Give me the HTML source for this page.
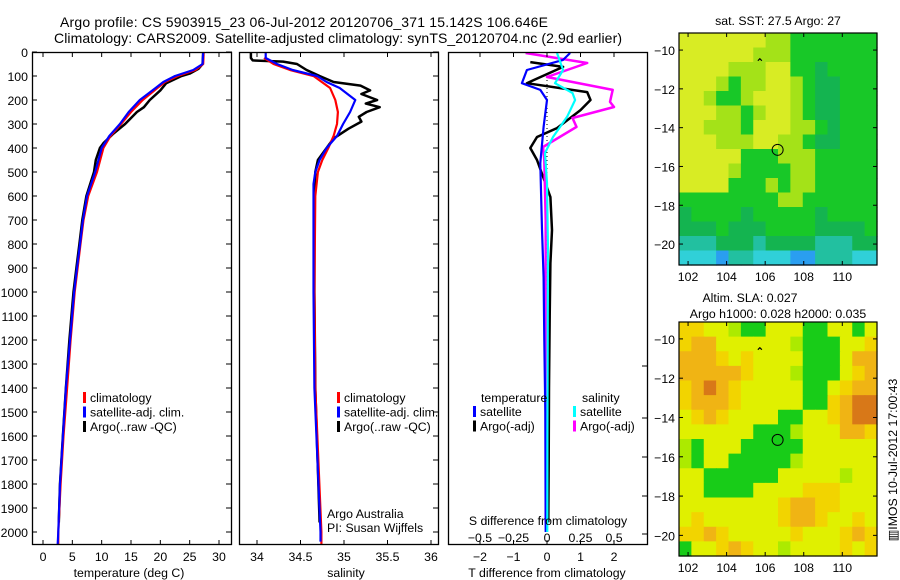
<!DOCTYPE html>
<html><head><meta charset="utf-8"><style>
html,body{margin:0;padding:0;background:#fff;}
svg{display:block;font-family:"Liberation Sans",sans-serif;}
</style></head><body>
<svg id="fig" width="900" height="580" viewBox="0 0 900 580" xmlns="http://www.w3.org/2000/svg">
<text x="304" y="27" font-size="14" text-anchor="middle" textLength="488">Argo profile: CS 5903915_23 06-Jul-2012 20120706_371 15.142S 106.646E</text>
<text x="338" y="43" font-size="14" text-anchor="middle" textLength="568">Climatology: CARS2009. Satellite-adjusted climatology: synTS_20120704.nc (2.9d earlier)</text>
<g id="maps"></g>
<g id="panels"></g>
</svg>
<script>
// ---------- data ----------
const depthTicks = [0,100,200,300,400,500,600,700,800,900,1000,1100,1200,1300,1400,1500,1600,1700,1800,1900,2000];
const tempTicks = [0,5,10,15,20,25,30];
const salTicks = [34,34.5,35,35.5,36];
const tdiffTicks = [-2,-1,0,1,2];
const sdiffTicks = [-0.5,-0.25,0,0.25,0.5];

const tClimDepth = [0,50,75,100,125,150,200,250,300,350,400,500,600,700,800,900,1000,1200,1400,1600,1800,2000,2050];
const tClimVal   = [27.4,27.3,26.0,23.0,20.8,19.5,17.0,15.0,13.3,11.5,10.3,9.2,7.7,6.9,6.4,5.9,5.4,4.7,4.1,3.5,3.0,2.6,2.6];
const tSatDepth  = [0,50,75,100,125,150,200,250,300,350,400,500,600,700,800,900,1000,1200,1400,1600,1800,2000,2050];
const tSatVal    = [27.3,27.2,25.6,22.5,20.5,19.2,16.5,14.6,13.1,11.3,10.0,8.9,7.5,6.8,6.3,5.8,5.3,4.6,3.9,3.4,2.9,2.6,2.5];
const tArgoDepth = [0,50,70,90,100,130,160,200,230,250,280,300,340,380,400,450,500,600,700,800,900,1000,1200,1400,1600,1800,1960];
const tArgoVal   = [27.3,27.2,26.5,25.0,23.6,21.0,20.0,18.2,17.2,16.0,14.8,14.0,12.0,10.3,9.7,9.0,8.7,7.4,6.7,6.2,5.7,5.2,4.5,3.9,3.4,2.9,2.7];

const sClimDepth = [25,50,75,100,150,200,250,300,350,400,450,500,600,1000,1400,2000,2050];
const sClimVal   = [34.08,34.19,34.38,34.65,34.84,34.9,34.93,34.92,34.88,34.82,34.75,34.7,34.67,34.66,34.67,34.74,34.74];
const sSatDepth  = [0,25,50,75,100,125,150,200,250,300,350,400,450,500,550,1000,1400,2000,2040];
const sSatVal    = [34.1,34.1,34.23,34.41,34.69,34.8,34.95,35.13,35.07,34.99,34.92,34.8,34.72,34.67,34.65,34.65,34.66,34.73,34.73];
const sArgoDepth = [0,25,35,40,50,75,100,125,140,160,175,200,215,230,250,270,290,320,360,400,450,500,600,1000,1400,1960];
const sArgoVal   = [33.93,33.93,33.95,34.3,34.46,34.57,34.72,34.88,35.19,35.3,35.2,35.38,35.25,35.41,35.26,35.17,35.2,35.05,34.88,34.8,34.7,34.67,34.66,34.66,34.67,34.72];

const dTSatDepth  = [4,33,75,130,158,200,312,463,740,940,1200,1500,2000];
const dTSatVal    = [0.69,0.48,-0.6,-0.75,-0.2,0,-0.1,-0.2,-0.15,-0.1,-0.08,-0.05,-0.04];
const dTArgoDepth = [42,62,117,130,167,200,242,317,354,400,450,604,742,880,1100,1400,1700,1960];
const dTArgoVal   = [-0.5,0.48,-0.4,-0.6,1.2,1.3,1.0,0.3,-0.3,-0.5,-0.3,0.1,0.15,0.1,0.08,0.06,0.05,0.04];
const dSSatDepth  = [4,75,130,171,200,270,354,421,546,800,1200,1600,2000];
const dSSatVal    = [0.075,0.12,0.06,0.19,0.21,0.15,0.045,-0.015,0,0.007,0.005,0.003,0.002];
const dSArgoDepth = [4,46,104,158,208,229,275,312,396,450,700,1100,1500,1960];
const dSArgoVal   = [-0.16,0.3,0,0.49,0.47,0.5,0.19,0.22,-0.03,-0.02,-0.01,-0.01,-0.01,-0.01];

const sstGrid = [
"YYYYYYYLLGGGGGGG","YYYYYYLLLGGGGGGG","YYYYLLLYYGGDGGGG","YYYLGLLYYLGDDGGG",
"YYLGGLYYYLGDDGGG","YYYLLGLYYLGDDGGG","YYLLLGYYYLLGDGGG","YYYLLLYYLLGDDGGG",
"YYYYYGGGLLLGGGGG","YYYYLGGGGLLGGGGG","YYYYGGGLGLLGGGGG","GGGGGGGGLLGGGGGG",
"DGGGGDGGGGGDGGGG","DDDGDDDGGGGDDDDG","CCCDDDCDDDDCCCDD","AAABCCAAABBCCCAA"];
const slaGrid = [
"ooYYLGGYYYGGYYGY","oOOYYYYYYLGGGYYo","OOOoYoYYYYGGGYOO","OOOOOoYYYLGGGYoO",
"oOROoYYYYYGGYoOO","oOOOoYYYYYGGoORR","YoOoYYYYGGYYoORR","YYYYYYGGGLYYYOOo",
"LGYYYGGGGGYYYYYY","LGYYGGGGGLYYYYYY","YYGGGGGGYYYYYLYY","YYGGGGYYYYoooYYY",
"YYYYYYYYoOOooYYY","YoYYYYYYoOOoYYoY","ooOoYYYYYoYYYoOo","GYYoOoYYLYYYYoYo"];
const lonTicks = [102,104,106,108,110];
const latTicks = [-10,-12,-14,-16,-18,-20];
const argoLon = 106.646, argoLat = -15.142;

// ---------- helpers ----------
const FS = 12.3;
const NS = "http://www.w3.org/2000/svg";
const panelsG = document.getElementById('panels');
const mapsG = document.getElementById('maps');
function mk(tag, attrs, parent, txt){
  const e = document.createElementNS(NS, tag);
  for (const k in attrs) e.setAttribute(k, attrs[k]);
  if (txt !== undefined) e.textContent = txt;
  parent.appendChild(e); return e;
}
const Y0 = 52, PY = 0.24, YB = 545;
const yD = d => Y0 + d * PY;

function axisX(lo, hi, px0, px1){ return v => px0 + (v - lo) / (hi - lo) * (px1 - px0); }
const xT = axisX(0, 30, 43, 219);
const xS = axisX(34, 36, 257, 431);
const xDT = axisX(-2, 2, 480, 614);
const xDS = axisX(-0.5, 0.5, 480, 614);

function series(depths, vals, xf, color, w, name, parent){
  const pts = depths.map((d, i) => xf(vals[i]).toFixed(1) + ',' + yD(d).toFixed(1)).join(' ');
  const p = mk('polyline', {points: pts, fill: 'none', stroke: color, 'stroke-width': w, 'stroke-linejoin': 'round'}, parent);
  
  
}

function panelFrame(x0, x1, name){
  const g = mk('g', {}, panelsG);
  
  
  const cp = mk('clipPath', {id: 'clip-' + name}, g);
  mk('rect', {x: x0, y: Y0, width: x1 - x0, height: YB - Y0}, cp);
  const inner = mk('g', {'clip-path': 'url(#clip-' + name + ')'}, g);
  const r = mk('rect', {x: x0 + 0.5, y: Y0 + 0.5, width: x1 - x0 - 1, height: YB - Y0 - 1, fill: 'none', stroke: '#000', 'stroke-width': 1.3}, g);
  
  
  return {g, inner};
}

// ---------- panel 1: temperature ----------
let P = panelFrame(32, 232, 'temperature-panel');
depthTicks.forEach(d => {
  const t = mk('text', {x: 28, y: yD(d) + 5, 'font-size': FS, 'text-anchor': 'end'}, P.g, String(d));
  
  
  mk('line', {x1: 32, x2: 37, y1: yD(d), y2: yD(d), stroke: '#000'}, P.g);
  mk('line', {x1: 226, x2: 232, y1: yD(d), y2: yD(d), stroke: '#000'}, P.g);
});
tempTicks.forEach(v => {
  const x = xT(v);
  mk('line', {x1: x, x2: x, y1: YB, y2: YB - 5, stroke: '#000'}, P.g);
  mk('line', {x1: x, x2: x, y1: Y0, y2: Y0 + 5, stroke: '#000'}, P.g);
  const t = mk('text', {x: x, y: 561, 'font-size': FS, 'text-anchor': 'middle'}, P.g, String(v));
  
  
});
series(tArgoDepth, tArgoVal, xT, '#000', 2.5, 'temp-argo-line', P.inner);
series(tClimDepth, tClimVal, xT, '#f00', 2.2, 'temp-climatology-line', P.inner);
series(tSatDepth, tSatVal, xT, '#00f', 2.2, 'temp-satellite-line', P.inner);
let t1 = mk('text', {x: 129, y: 577, 'font-size': FS, 'text-anchor': 'middle'}, P.g, 'temperature (deg C)');
 

function legend(parent, x, y0, items, prefix){
  items.forEach((it, i) => {
    const y = y0 + i * 14.5;
    const b = mk('rect', {x: x, y: y - 10, width: 3, height: 11, fill: it[1]}, parent);
    
    
    const t = mk('text', {x: x + 7, y: y, 'font-size': FS}, parent, it[0]);
    
    
  });
}
legend(P.g, 83, 402, [['climatology', '#f00'], ['satellite-adj. clim.', '#00f'], ['Argo(..raw -QC)', '#000']], 'temperature');

// ---------- panel 2: salinity ----------
P = panelFrame(239, 439, 'salinity-panel');
depthTicks.forEach(d => {
  mk('line', {x1: 433, x2: 439, y1: yD(d), y2: yD(d), stroke: '#000'}, P.g);
});
salTicks.forEach(v => {
  const x = xS(v);
  mk('line', {x1: x, x2: x, y1: YB, y2: YB - 5, stroke: '#000'}, P.g);
  mk('line', {x1: x, x2: x, y1: Y0, y2: Y0 + 5, stroke: '#000'}, P.g);
  const t = mk('text', {x: x, y: 561, 'font-size': FS, 'text-anchor': 'middle'}, P.g, String(v));
  
  
});
series(sArgoDepth, sArgoVal, xS, '#000', 2.5, 'sal-argo-line', P.inner);
series(sClimDepth, sClimVal, xS, '#f00', 2.2, 'sal-climatology-line', P.inner);
series(sSatDepth, sSatVal, xS, '#00f', 2.2, 'sal-satellite-line', P.inner);
legend(P.g, 337, 402, [['climatology', '#f00'], ['satellite-adj. clim.', '#00f'], ['Argo(..raw -QC)', '#000']], 'salinity');
let t2 = mk('text', {x: 327, y: 518, 'font-size': FS}, P.g, 'Argo Australia');
 
t2 = mk('text', {x: 327, y: 532, 'font-size': FS}, P.g, 'PI: Susan Wijffels');
 
t2 = mk('text', {x: 346, y: 577, 'font-size': FS, 'text-anchor': 'middle'}, P.g, 'salinity');
 

// ---------- panel 3: differences ----------
P = panelFrame(448, 648, 'difference-panel');
[366, 418, 457, 496, 534].forEach(y => mk('line', {x1: 642, x2: 648, y1: y, y2: y, stroke: '#000'}, P.g));
tdiffTicks.forEach(v => {
  const x = xDT(v);
  mk('line', {x1: x, x2: x, y1: YB, y2: YB - 5, stroke: '#000'}, P.g);
  mk('line', {x1: x, x2: x, y1: Y0, y2: Y0 + 5, stroke: '#000'}, P.g);
  const t = mk('text', {x: x, y: 561, 'font-size': FS, 'text-anchor': 'middle'}, P.g, String(v).replace('-', '\u2212'));
  
  
});
sdiffTicks.forEach(v => {
  const t = mk('text', {x: xDS(v), y: 542, 'font-size': FS, 'text-anchor': 'middle'}, P.g, String(v).replace('-', '\u2212'));
  
  
});
mk('line', {x1: xDT(0), x2: xDT(0), y1: yD(100), y2: yD(1000), stroke: '#000', 'stroke-dasharray': '1,3'}, P.inner);
series(dTArgoDepth, dTArgoVal, xDT, '#000', 2.5, 'tdiff-argo-line', P.inner);
series(dSArgoDepth, dSArgoVal, xDS, '#f0f', 2.5, 'sdiff-argo-line', P.inner);
series(dTSatDepth, dTSatVal, xDT, '#00f', 2.2, 'tdiff-satellite-line', P.inner);
series(dSSatDepth, dSSatVal, xDS, '#0ff', 2.2, 'sdiff-satellite-line', P.inner);
let t3 = mk('text', {x: 481, y: 402, 'font-size': FS}, P.g, 'temperature');
 
t3 = mk('text', {x: 582, y: 402, 'font-size': FS}, P.g, 'salinity');
 
legend(P.g, 473, 416, [['satellite', '#00f'], ['Argo(-adj)', '#000']], 'tdiff');
legend(P.g, 573, 416, [['satellite', '#0ff'], ['Argo(-adj)', '#f0f']], 'sdiff');
t3 = mk('text', {x: 548, y: 525, 'font-size': FS, 'text-anchor': 'middle'}, P.g, 'S difference from climatology');
 
t3 = mk('text', {x: 547, y: 577, 'font-size': FS, 'text-anchor': 'middle'}, P.g, 'T difference from climatology');
 

// ---------- maps ----------
const sstCol = {Y:'#d8ec24', L:'#a4e218', G:'#18c828', D:'#14b450', C:'#22c0a0', A:'#30d0d8', B:'#2a9ef0'};
const slaCol = {o:'#f2d400', O:'#f0b414', R:'#d87818', Y:'#e0f000', L:'#acea00', G:'#18cc18'};
function drawMap(grid, cols, top, bottom, latTop, latBot, name){
  const L = 679, R = 877, lonL = 101.53, lonR = 111.8;
  const g = mk('g', {}, mapsG);
  
  
  const xL = v => L + (v - lonL) / (lonR - lonL) * (R - L);
  const yL = v => top + (latTop - v) / (latTop - latBot) * (bottom - top);
  const nr = grid.length, nc = grid[0].length;
  const cw = (R - L) / nc, ch = (bottom - top) / nr;
  for (let r = 0; r < nr; r++) for (let c = 0; c < nc; c++) {
    const cell = mk('rect', {x: L + c * cw, y: top + r * ch, width: cw + 0.6, height: ch + 0.6, fill: cols[grid[r][c]]}, g);
    
    
  }
  mk('rect', {x: L, y: top, width: R - L, height: bottom - top, fill: 'none', stroke: '#000', 'stroke-width': 1.2}, g);
  lonTicks.forEach(v => {
    mk('line', {x1: xL(v), x2: xL(v), y1: top, y2: top + 4, stroke: '#000'}, g);
    mk('line', {x1: xL(v), x2: xL(v), y1: bottom, y2: bottom - 4, stroke: '#000'}, g);
    const t = mk('text', {x: xL(v), y: bottom + 16, 'font-size': FS, 'text-anchor': 'middle'}, g, String(v));
    
    
  });
  latTicks.forEach(v => {
    mk('line', {x1: L, x2: L + 4, y1: yL(v), y2: yL(v), stroke: '#000'}, g);
    mk('line', {x1: R, x2: R - 4, y1: yL(v), y2: yL(v), stroke: '#000'}, g);
    const t = mk('text', {x: L - 4, y: yL(v) + 5, 'font-size': FS, 'text-anchor': 'end'}, g, String(v).replace('-', '\u2212'));
    
    
  });
  const c = mk('circle', {cx: xL(argoLon), cy: yL(argoLat), r: 5.5, fill: 'none', stroke: '#000', 'stroke-width': 1}, g);
  
  
  const m = mk('path', {d: `M${xL(105.62)},${yL(-10.55)} l2,-2 l2,2`, fill: 'none', stroke: '#000', 'stroke-width': 1.2}, g);
  
  
}
drawMap(sstGrid, sstCol, 33, 265, -9.12, -21.08, 'sst-map');
drawMap(slaGrid, slaCol, 322, 556, -9.14, -21.05, 'sla-map');
let tm = mk('text', {x: 778, y: 25, 'font-size': FS, 'text-anchor': 'middle'}, mapsG, 'sat. SST: 27.5 Argo: 27');
 
tm = mk('text', {x: 750, y: 302, 'font-size': FS, 'text-anchor': 'middle'}, mapsG, 'Altim. SLA: 0.027');
 
tm = mk('text', {x: 778, y: 318, 'font-size': FS, 'text-anchor': 'middle'}, mapsG, 'Argo h1000: 0.028 h2000: 0.035');
 
tm = mk('text', {x: 0, y: 0, 'font-size': FS, 'text-anchor': 'middle', transform: 'translate(897,460) rotate(-90)'}, mapsG, '\u25A5IMOS 10-Jul-2012 17:00:43');
 
</script>
</body></html>
